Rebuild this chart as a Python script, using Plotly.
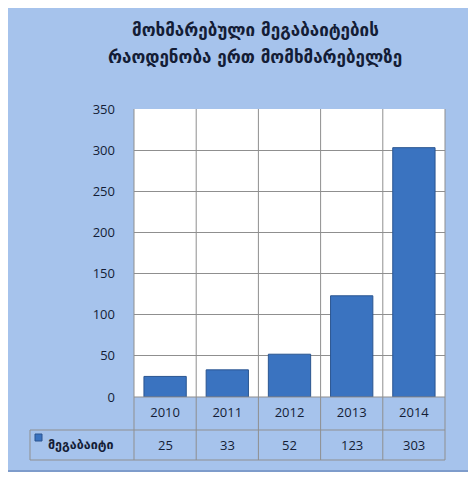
import plotly.graph_objects as go

# ---- data ----
title_lines = ["მოხმარებული მეგაბაიტების", "რაოდენობა ერთ მომხმარებელზე"]
years = ["2010", "2011", "2012", "2013", "2014"]
megabytes = [25, 33, 52, 123, 303]
series_name = "მეგაბაიტი"
y_ticks = [0, 50, 100, 150, 200, 250, 300, 350]

# ---- layout geometry (page pixels; page body has an 8px margin) ----
OFF = 8
W, H = 476 - OFF, 480 - OFF
L, R, T, B = 134 - OFF, 445 - OFF, 109 - OFF, 397 - OFF
pw, ph = R - L, B - T


def px(x):
    return (x - OFF - L) / pw


def py(y):
    return (B - (y - OFF)) / ph


BG = "#a6c3ec"
GRID = "#8f8f8f"
TXT = "#141d36"
NUMFONT = "Open Sans"
GEOFONT = "DejaVu Sans"

fig = go.Figure(
    go.Bar(
        x=years,
        y=megabytes,
        width=0.68,
        marker=dict(color="#3a73c0", line=dict(color="#2a5590", width=1)),
        showlegend=False,
        hoverinfo="skip",
    )
)

shapes = []
# outer frame
shapes.append(dict(type="rect", xref="paper", yref="paper", layer="below",
                   x0=px(4), x1=px(471), y0=py(471), y1=py(7),
                   fillcolor=BG, line=dict(color="#7e9ccb", width=2)))
# white plot area
shapes.append(dict(type="rect", xref="paper", yref="paper", layer="below",
                   x0=0, x1=1, y0=0, y1=1, fillcolor="white", line=dict(width=0)))

n = len(years)
# vertical lines (category boundaries through plot and table)
for i in range(n + 1):
    shapes.append(dict(type="line", xref="paper", yref="paper", layer="above",
                       x0=i / n, x1=i / n, y0=py(460), y1=1,
                       line=dict(color=GRID, width=1)))
# left column of table
shapes.append(dict(type="line", xref="paper", yref="paper", layer="above",
                   x0=px(30), x1=px(30), y0=py(460), y1=py(430),
                   line=dict(color=GRID, width=1)))
# horizontal table lines
shapes.append(dict(type="line", xref="paper", yref="paper", layer="above",
                   x0=0, x1=1, y0=0, y1=0, line=dict(color=GRID, width=1)))
for yy in (430, 460):
    shapes.append(dict(type="line", xref="paper", yref="paper", layer="above",
                       x0=px(30), x1=1, y0=py(yy), y1=py(yy),
                       line=dict(color=GRID, width=1)))
# legend key square
shapes.append(dict(type="rect", xref="paper", yref="paper", layer="above",
                   x0=px(35), x1=px(42), y0=py(441), y1=py(434),
                   fillcolor="#3a73c0", line=dict(color="#2a5590", width=1)))

annotations = []
for i, v in enumerate(megabytes):
    annotations.append(dict(x=(i + 0.5) / n, xref="paper", y=py(445), yref="paper",
                            xanchor="center", yanchor="middle",
                            text=str(v), showarrow=False,
                            font=dict(family=NUMFONT, size=13, color=TXT)))
annotations.append(dict(x=px(46), xref="paper", y=py(444), yref="paper",
                        xanchor="left", yanchor="middle",
                        text="<b>" + series_name + "</b>", showarrow=False,
                        font=dict(family=GEOFONT, size=12.5, color=TXT)))
# title (two lines)
for line_text, yy in zip(title_lines, (30, 57)):
    annotations.append(dict(x=px(255), xref="paper", y=py(yy), yref="paper",
                            xanchor="center", yanchor="middle",
                            text="<b>" + line_text + "</b>", showarrow=False,
                            font=dict(family=GEOFONT, size=17, color=TXT)))

fig.update_layout(
    width=W, height=H,
    margin=dict(l=L, r=W - R, t=T, b=H - B, pad=0),
    paper_bgcolor="white",
    plot_bgcolor="white",
    bargap=0.32,
    xaxis=dict(type="category", range=[-0.5, n - 0.5], showgrid=False, showline=False,
               zeroline=False, ticks="", ticklabelstandoff=6,
               tickfont=dict(family=NUMFONT, size=13, color=TXT)),
    yaxis=dict(range=[0, 350], tickvals=y_ticks, showgrid=True, gridcolor=GRID,
               gridwidth=1, zeroline=False, showline=False, ticks="",
               ticklabelstandoff=18,
               tickfont=dict(family=NUMFONT, size=13, color=TXT)),
    shapes=shapes,
    annotations=annotations,
)

fig.write_html("out.html")
